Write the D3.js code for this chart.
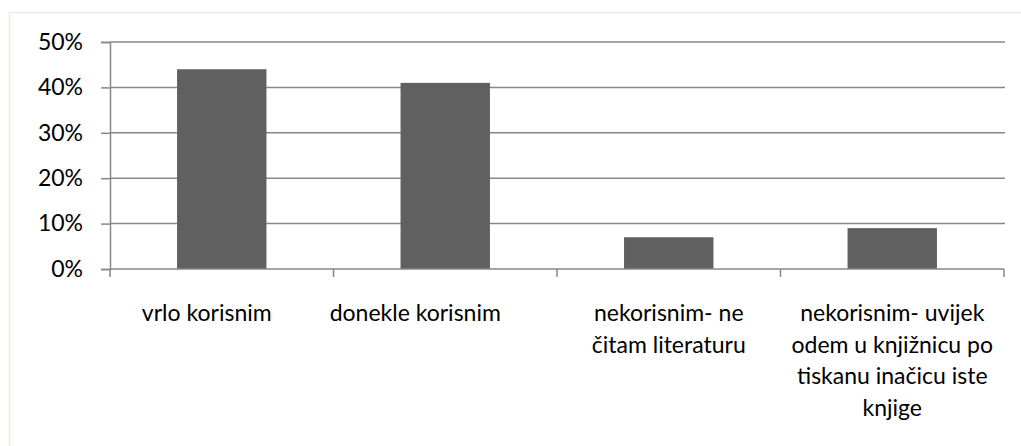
<!DOCTYPE html>
<html><head><meta charset="utf-8">
<script src="https://cdn.jsdelivr.net/npm/d3@7"></script>
<style>
html,body{margin:0;padding:0;background:#fff;}
svg{display:block;}
text{font-family:Lato,"Open Sans",sans-serif;fill:#000;}
</style></head>
<body>
<script>
const categories = [
  ["vrlo korisnim"],
  ["donekle korisnim"],
  ["nekorisnim- ne", "čitam literaturu"],
  ["nekorisnim- uvijek", "odem u knjižnicu po", "tiskanu inačicu iste", "knjige"]
];
const values = [0.44, 0.41, 0.07, 0.09];
const yTicks = [0, 0.1, 0.2, 0.3, 0.4, 0.5];
const labelShift = [-15, -30, 0, 0];

const W = 1021, H = 446;
const FS = 23;
const svg = d3.select("body").append("svg").attr("width", W).attr("height", H);

// chart area border
svg.append("rect").attr("x", 9.5).attr("y", 12.5).attr("width", 1030).attr("height", 460)
  .attr("fill", "#fff").attr("stroke", "#ece9dc").attr("stroke-width", 1.5);

const x = d3.scaleBand().domain(d3.range(categories.length)).range([110, 1004]).paddingInner(0.6).paddingOuter(0.3);
const xb = d3.scaleBand().domain(d3.range(categories.length)).range([110, 1004]);
const y = d3.scaleLinear().domain([0, 0.5]).range([269, 42]);

// gridlines
svg.append("g").selectAll("line").data(yTicks.slice(1)).join("line")
  .attr("x1", 110).attr("x2", 1005).attr("y1", d => y(d)).attr("y2", d => y(d))
  .attr("stroke", "#878787").attr("stroke-width", 1.5);

// y axis
const yAxis = d3.axisLeft(y).tickValues(yTicks).tickSize(9).tickPadding(18).tickFormat(d3.format(".0%"));
const gy = svg.append("g").attr("transform", "translate(110,0)").call(yAxis);
gy.select(".domain").attr("stroke", "#878787").attr("stroke-width", 1.5);
gy.selectAll(".tick line").attr("stroke", "#878787").attr("stroke-width", 1.5);
gy.selectAll("text").attr("font-size", FS).attr("font-family", "Lato, sans-serif").attr("fill", "#000");

// bars
svg.append("g").selectAll("rect").data(values).join("rect")
  .attr("x", (d, i) => x(i)).attr("width", x.bandwidth())
  .attr("y", d => y(d)).attr("height", d => y(0) - y(d))
  .attr("fill", "#606060");

// x axis
svg.append("line").attr("x1", 110).attr("x2", 1004).attr("y1", y(0)).attr("y2", y(0))
  .attr("stroke", "#878787").attr("stroke-width", 1.5);
const bounds = d3.range(categories.length + 1).map(i => i < categories.length ? xb(i) : xb(i - 1) + xb.bandwidth());
svg.append("g").selectAll("line").data(bounds).join("line")
  .attr("x1", d => d).attr("x2", d => d).attr("y1", y(0)).attr("y2", y(0) + 8)
  .attr("stroke", "#878787").attr("stroke-width", 1.5);

// category labels
const lab = svg.append("g").selectAll("text").data(categories).join("text")
  .attr("text-anchor", "middle").attr("font-size", FS)
  .attr("transform", (d, i) => `translate(${xb(i) + xb.bandwidth() / 2 + labelShift[i]},321)`);
lab.selectAll("tspan").data(d => d).join("tspan")
  .attr("x", 0).attr("y", (d, j) => j * 31.7).text(d => d);
</script>
</body></html>
